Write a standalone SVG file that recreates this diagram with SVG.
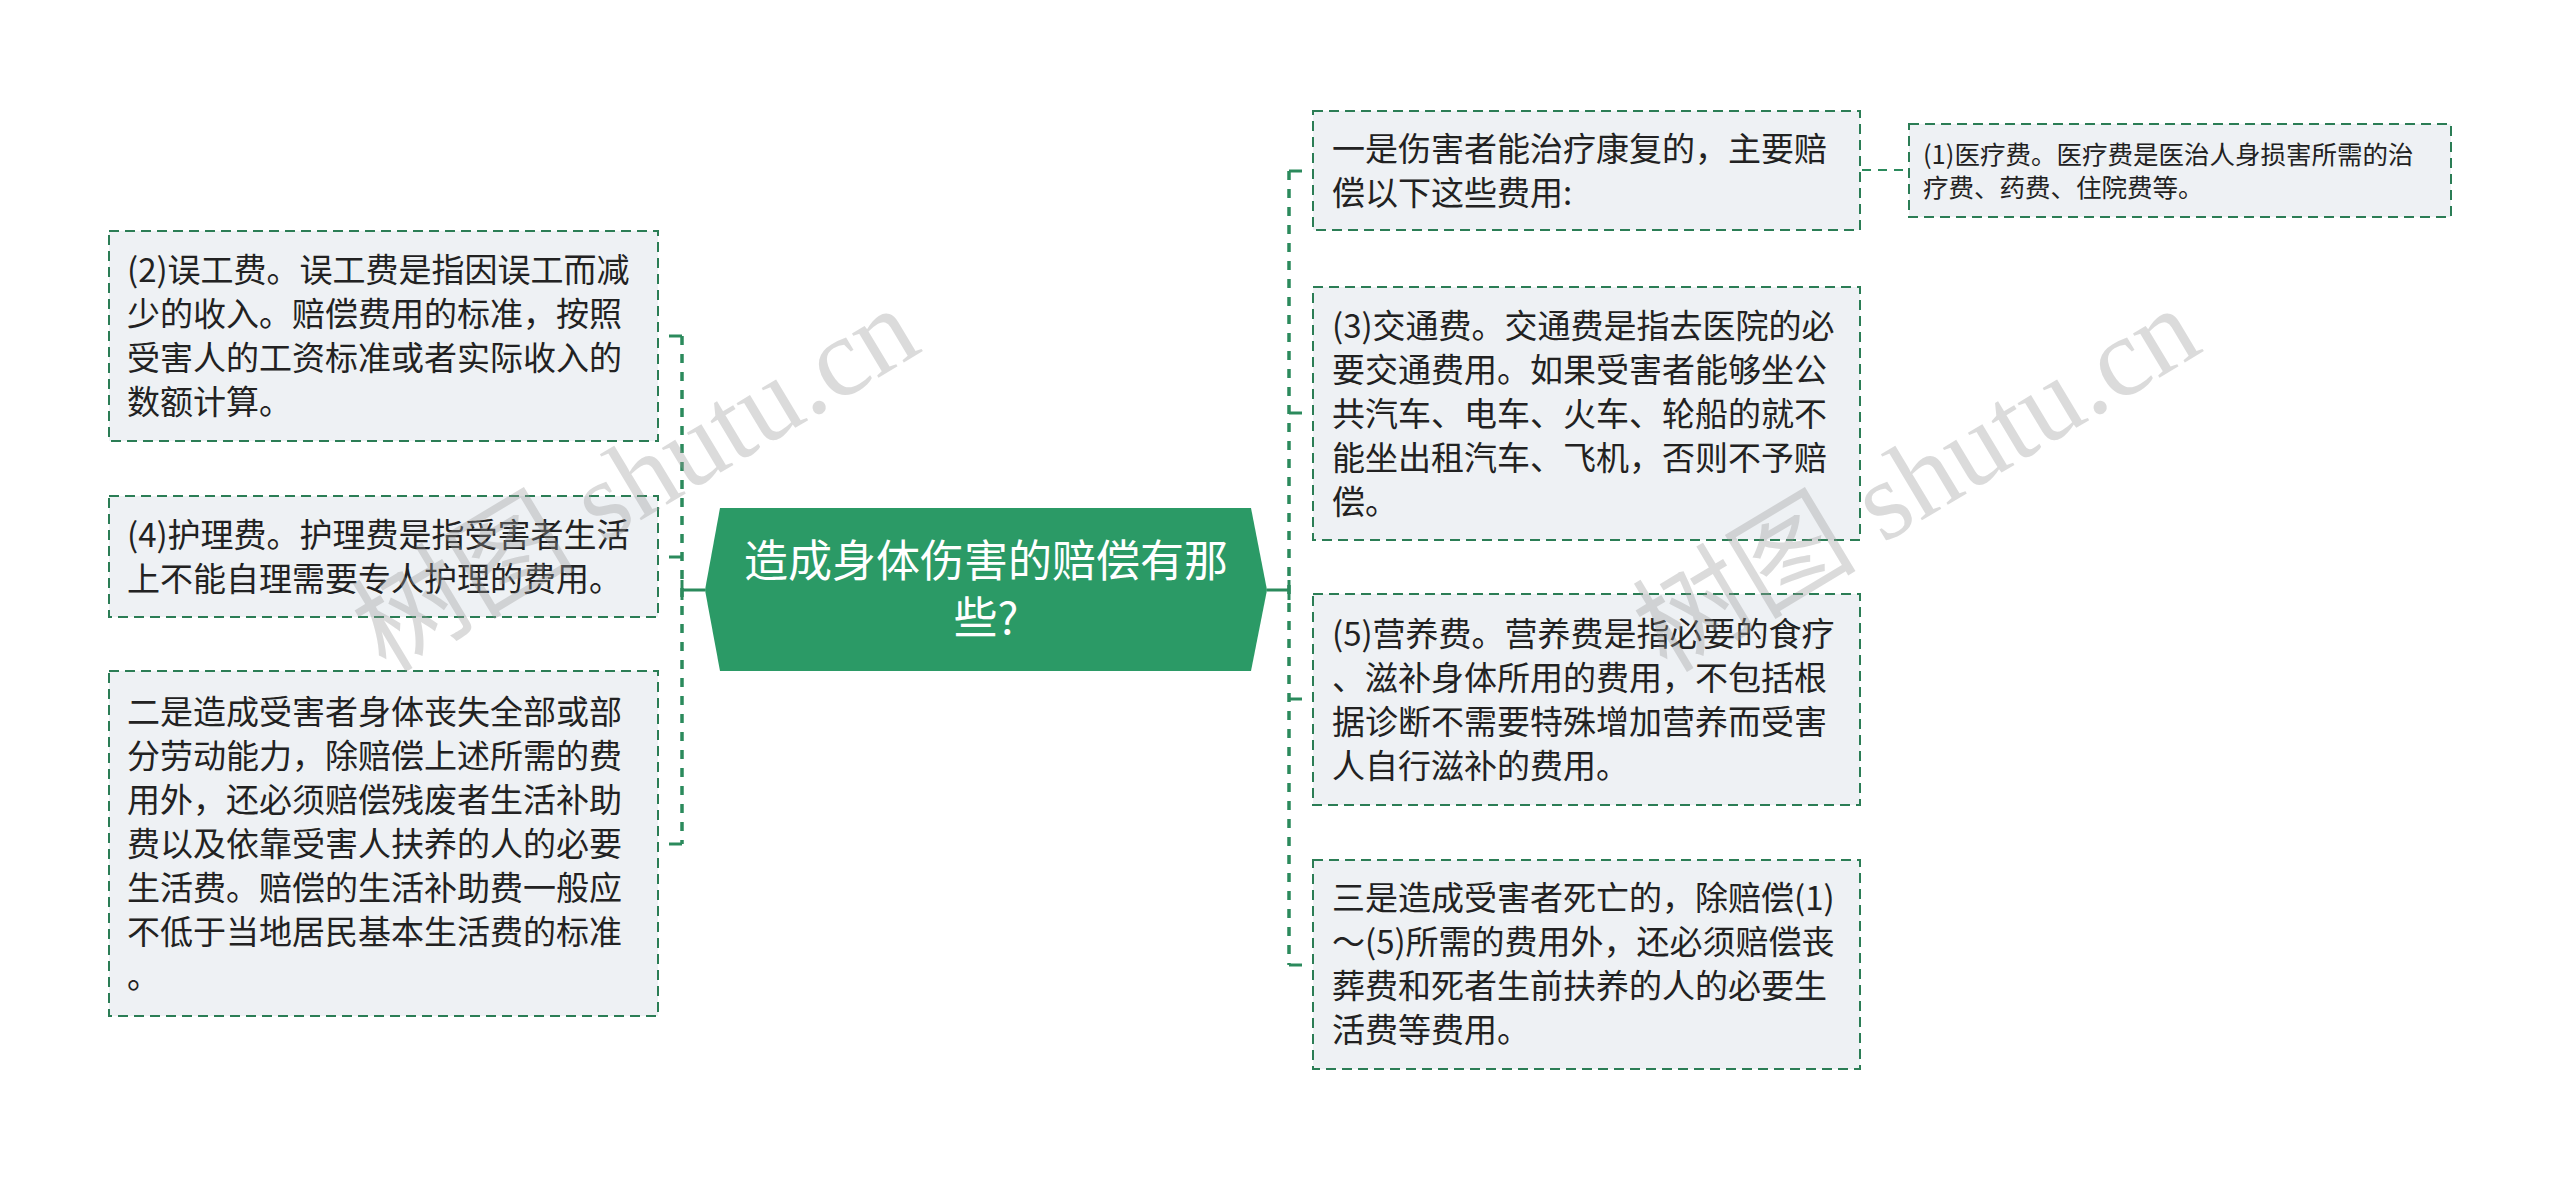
<svg xmlns="http://www.w3.org/2000/svg" width="2560" height="1181" viewBox="0 0 2560 1181">
<style>
.box{fill:#eef1f4;stroke:#2b7d55;stroke-width:2;stroke-dasharray:10 6}
.t{font-family:"Noto Sans CJK SC","Noto Sans",sans-serif;font-size:33px;fill:#222}
.ts{font-family:"Noto Sans CJK SC","Noto Sans",sans-serif;font-size:25.5px;fill:#222}
.ct{font-family:"Noto Sans CJK SC","Noto Sans",sans-serif;font-size:44px;fill:#fff;text-anchor:middle}
.c{fill:none;stroke:#2b8a5c;stroke-width:3.5;stroke-dasharray:9 9}
.cs{fill:none;stroke:#2b8a5c;stroke-width:3}
.c2{fill:none;stroke:#2b8a5c;stroke-width:2;stroke-dasharray:9 7}
.wm{font-family:"Liberation Serif","Noto Sans CJK SC",serif;font-size:112px;fill:#9a9a9a;opacity:0.35;text-anchor:middle}
</style>
<rect width="2560" height="1181" fill="#ffffff"/>
<g id="connectors">
<path class="c" d="M682 336 V844"/>
<path class="cs" d="M669 336 H682"/>
<path class="cs" d="M669 557 H682"/>
<path class="cs" d="M669 844 H682"/>
<path class="cs" d="M682 590 H705 M682 580 V600"/>
<path class="c" d="M1289 171 V965"/>
<path class="cs" d="M1289 171 H1302"/>
<path class="cs" d="M1289 413 H1302"/>
<path class="cs" d="M1289 699 H1302"/>
<path class="cs" d="M1289 965 H1302"/>
<path class="cs" d="M1267 590 H1289 M1289 580 V600"/>
<path class="c2" d="M1862 170 H1909"/>
</g>
<g id="center">
<polygon points="705,590 720,508 1251,508 1267,590 1251,671 720,671" fill="#2b9a66"/>
<text class="ct" x="986" y="577">造成身体伤害的赔偿有那</text>
<text class="ct" x="986" y="634">些?</text>
</g>
<g id="left1">
<rect class="box" x="109" y="231" width="549" height="210"/>
<text class="t" x="127" y="282">(2)误工费。误工费是指因误工而减</text>
<text class="t" x="127" y="326">少的收入。赔偿费用的标准，按照</text>
<text class="t" x="127" y="370">受害人的工资标准或者实际收入的</text>
<text class="t" x="127" y="414">数额计算。</text>
</g>
<g id="left2">
<rect class="box" x="109" y="496" width="549" height="121"/>
<text class="t" x="127" y="547">(4)护理费。护理费是指受害者生活</text>
<text class="t" x="127" y="591">上不能自理需要专人护理的费用。</text>
</g>
<g id="left3">
<rect class="box" x="109" y="671" width="549" height="345"/>
<text class="t" x="127" y="724">二是造成受害者身体丧失全部或部</text>
<text class="t" x="127" y="768">分劳动能力，除赔偿上述所需的费</text>
<text class="t" x="127" y="812">用外，还必须赔偿残废者生活补助</text>
<text class="t" x="127" y="856">费以及依靠受害人扶养的人的必要</text>
<text class="t" x="127" y="900">生活费。赔偿的生活补助费一般应</text>
<text class="t" x="127" y="944">不低于当地居民基本生活费的标准</text>
<text class="t" x="127" y="988">。</text>
</g>
<g id="right1">
<rect class="box" x="1313" y="111" width="547" height="119"/>
<text class="t" x="1332" y="161">一是伤害者能治疗康复的，主要赔</text>
<text class="t" x="1332" y="205">偿以下这些费用:</text>
</g>
<g id="right1a">
<rect class="box" x="1909" y="124" width="542" height="93"/>
<text class="ts" x="1923" y="164">(1)医疗费。医疗费是医治人身损害所需的治</text>
<text class="ts" x="1923" y="197">疗费、药费、住院费等。</text>
</g>
<g id="right2">
<rect class="box" x="1313" y="287" width="547" height="253"/>
<text class="t" x="1332" y="338">(3)交通费。交通费是指去医院的必</text>
<text class="t" x="1332" y="382">要交通费用。如果受害者能够坐公</text>
<text class="t" x="1332" y="426">共汽车、电车、火车、轮船的就不</text>
<text class="t" x="1332" y="470">能坐出租汽车、飞机，否则不予赔</text>
<text class="t" x="1332" y="514">偿。</text>
</g>
<g id="right3">
<rect class="box" x="1313" y="594" width="547" height="211"/>
<text class="t" x="1332" y="646">(5)营养费。营养费是指必要的食疗</text>
<text class="t" x="1332" y="690">、滋补身体所用的费用，不包括根</text>
<text class="t" x="1332" y="734">据诊断不需要特殊增加营养而受害</text>
<text class="t" x="1332" y="778">人自行滋补的费用。</text>
</g>
<g id="right4">
<rect class="box" x="1313" y="860" width="547" height="209"/>
<text class="t" x="1332" y="910">三是造成受害者死亡的，除赔偿(1)</text>
<text class="t" x="1332" y="954">～(5)所需的费用外，还必须赔偿丧</text>
<text class="t" x="1332" y="998">葬费和死者生前扶养的人的必要生</text>
<text class="t" x="1332" y="1042">活费等费用。</text>
</g>
<text class="wm" transform="translate(655,512) rotate(-31)">树图 shutu.cn</text>
<text class="wm" transform="translate(1936,512) rotate(-31)">树图 shutu.cn</text>
</svg>
